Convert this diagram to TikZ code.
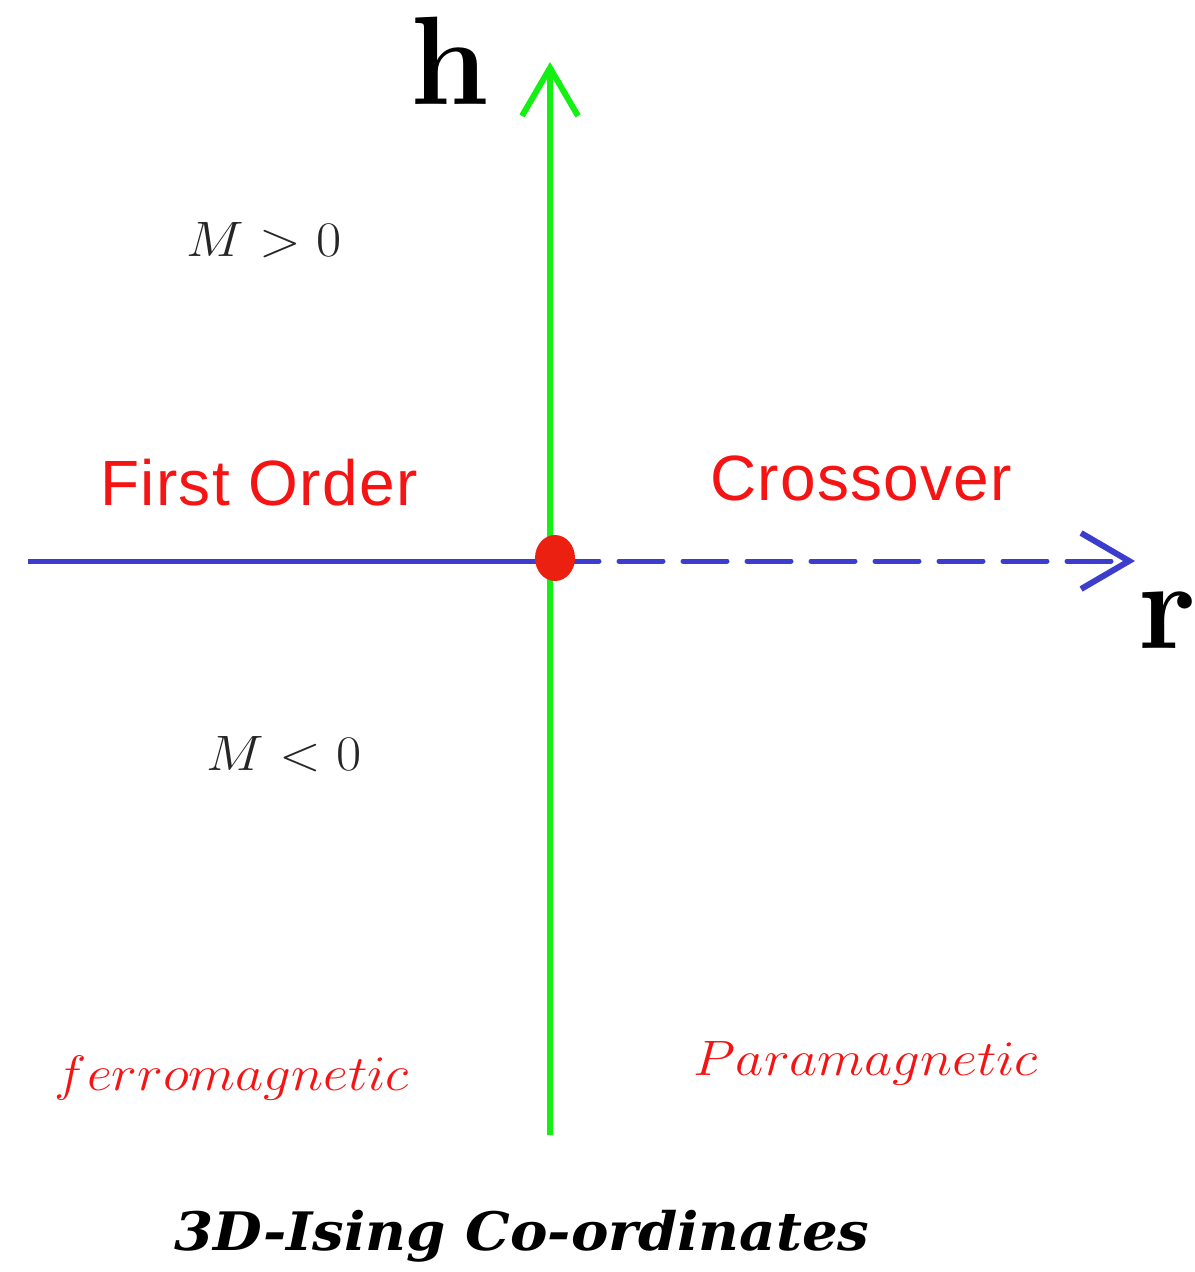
\documentclass[tikz,border=0pt]{standalone}
\usepackage{fontspec}
\newfontfamily\sanslabel[LetterSpace=2]{Liberation Sans}
\newfontfamily\titlefont{DejaVu Serif}
\usetikzlibrary{arrows.meta,shapes.geometric}
\definecolor{axisgreen}{RGB}{20,240,20}
\definecolor{axisblue}{RGB}{60,60,205}
\definecolor{dotred}{RGB}{236,32,16}
\definecolor{labelred}{RGB}{245,20,20}
\tikzset{
  axislabel/.style={inner sep=0pt,anchor=base,font=\fontsize{63}{70}\selectfont\bfseries},
  phaselabel/.style={inner sep=0pt,anchor=base,text=labelred,font=\fontsize{32}{36}\selectfont\sanslabel},
  maglabel/.style={inner sep=0pt,anchor=base,text=black!85,font=\fontsize{27.5}{30}\selectfont},
  openhead/.style={-{Straight Barb[length=24pt,width=28pt,line width=3pt]}}
}
\begin{document}
\begin{tikzpicture}[x=0.5pt,y=0.5pt,yscale=-1,xscale=1]
  \useasboundingbox (0,0) rectangle (1194,1272);
  % axes
  \coordinate (hbot) at (550,1135);
  \coordinate (htop) at (550,62);
  \coordinate (rleft) at (28,561);
  \coordinate (orig) at (555,561);
  \coordinate (rtip) at (1135,561);
  \draw [axisgreen,line width=3pt,openhead] (hbot) -- (htop);
  \draw [axisblue,line width=2.5pt] (rleft) -- (orig);
  \draw [axisblue,line width=2.5pt,line cap=round,dash pattern=on 22pt off 10pt,openhead] (orig) -- (rtip);
  \node (crit) [fill=dotred,ellipse,minimum width=20pt,minimum height=23pt,inner sep=0pt] at (555,558) {};
  % labels
  \node (hlab) [axislabel] at (450,105) {h};
  \node (rlab) [axislabel] at (1167,648) {r};
  \node (mup) [maglabel] at (264,257) {\scalebox{1.1}[1]{$M>0$}};
  \node (mdown) [maglabel] at (284,770) {\scalebox{1.1}[1]{$M<0$}};
  \node (first) [phaselabel] at (259,505) {First Order};
  \node (cross) [phaselabel] at (861,500) {Crossover};
  \node (ferro) [maglabel,text=labelred] at (232,1090) {\scalebox{1.1}[1]{$ferromagnetic$}};
  \node (para) [maglabel,text=labelred] at (866,1075) {\scalebox{1.1}[1]{$Paramagnetic$}};
  \node (title) [inner sep=0pt,anchor=base,font=\fontsize{26.5}{30}\selectfont\titlefont\bfseries\itshape] at (522,1250) {\scalebox{1.06}[1]{3D-Ising Co-ordinates}};
\end{tikzpicture}
\end{document}
